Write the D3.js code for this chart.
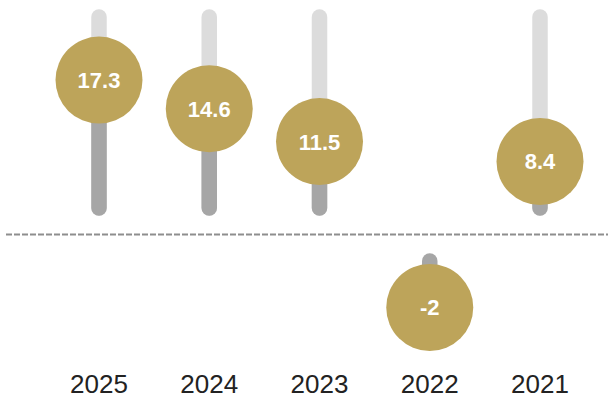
<!DOCTYPE html>
<html>
<head>
<meta charset="utf-8">
<script src="https://cdn.jsdelivr.net/npm/d3@7/dist/d3.min.js"></script>
<style>
  html, body { margin: 0; padding: 0; background: #fff; }
  svg { display: block; }
</style>
</head>
<body>
<svg id="chart" width="608" height="398"></svg>
<script>
// Yearly values, shown as lollipops above / below a dashed zero line
const years = ["2025", "2024", "2023", "2022", "2021"];
const values = [17.3, 14.6, 11.5, -2, 8.4];
const valueLabels = ["17.3", "14.6", "11.5", "-2", "8.4"];

const width = 608, height = 398;
const zeroY = 234.5;      // dashed baseline
const gap = 26.5;         // space between baseline and bar start
const trackTop = 17;      // upper end of the grey track
const headR = 43.5;       // radius of the value bubble
const minDist = 73;       // bubble never closer to baseline than this

const svg = d3.select("#chart");

const x = d3.scalePoint().domain(years).range([99, 540]);
// distance of the bubble centre from the baseline, by magnitude
const dist = d3.scaleLinear().domain([0, 20]).range([-29, 183]);

const data = years.map((y, i) => ({ year: y, value: values[i], label: valueLabels[i] }));
const headY = d => {
  const s = d.value >= 0 ? -1 : 1;
  return zeroY + s * Math.max(dist(Math.abs(d.value)), minDist);
};
const barStart = d => d.value >= 0 ? zeroY - gap : zeroY + gap;

// light background tracks (positive side)
svg.append("g").selectAll("line")
  .data(data.filter(d => d.value >= 0))
  .join("line")
  .attr("x1", d => x(d.year)).attr("x2", d => x(d.year))
  .attr("y1", trackTop).attr("y2", zeroY - gap)
  .attr("stroke", "#dcdcdc")
  .attr("stroke-width", 15.5)
  .attr("stroke-linecap", "round");

// darker value bars
svg.append("g").selectAll("line")
  .data(data)
  .join("line")
  .attr("x1", d => x(d.year)).attr("x2", d => x(d.year))
  .attr("y1", barStart).attr("y2", headY)
  .attr("stroke", "#a6a6a6")
  .attr("stroke-width", 15.5)
  .attr("stroke-linecap", "round");

// zero line
svg.append("line")
  .attr("x1", 6).attr("x2", width)
  .attr("y1", zeroY).attr("y2", zeroY)
  .attr("stroke", "#8e8e8e")
  .attr("stroke-width", 1.8)
  .attr("stroke-dasharray", "6,2");

// bubbles
const heads = svg.append("g").selectAll("g")
  .data(data)
  .join("g")
  .attr("transform", d => `translate(${x(d.year)},${headY(d)})`);

heads.append("circle")
  .attr("r", headR)
  .attr("fill", "#bda45a");

heads.append("text")
  .attr("text-anchor", "middle")
  .attr("dy", "0.36em")
  .attr("fill", "#fff")
  .style("font-family", "'Liberation Sans', Arial, Helvetica, sans-serif")
  .style("font-weight", "bold")
  .style("font-size", "22px")
  .text(d => d.label);

// year labels
svg.append("g").selectAll("text")
  .data(data)
  .join("text")
  .attr("x", d => x(d.year))
  .attr("y", 393)
  .attr("text-anchor", "middle")
  .attr("fill", "#222")
  .style("font-family", "'Liberation Sans', Arial, Helvetica, sans-serif")
  .style("font-size", "26px")
  .text(d => d.year);
</script>
</body>
</html>
